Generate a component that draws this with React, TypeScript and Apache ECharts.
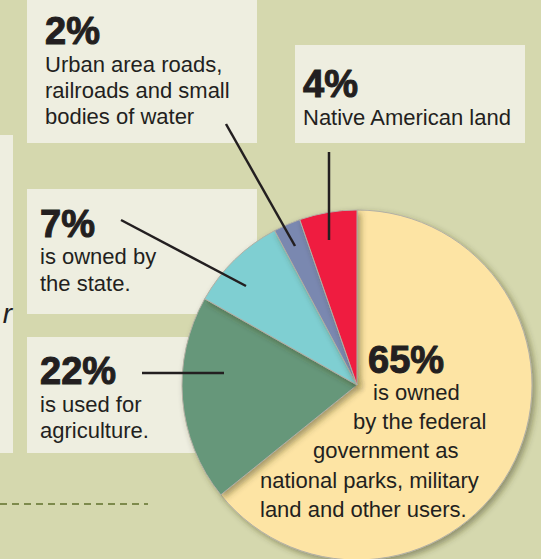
import React, { useEffect, useRef } from "react";
import * as echarts from "echarts";

// Slice shares as drawn in the picture (angles measured, in percent of the circle)
const sliceNames = [
  "Federal government",
  "Agriculture",
  "State",
  "Urban roads, railroads, small water bodies",
  "Native American land",
];
const sliceShares = [64.2, 19.0, 9.0, 2.5, 5.3];
const sliceColors = ["#fde4a4", "#66977a", "#7fcfd2", "#7a88b0", "#ef1a3f"];

// Stated percentages and captions
const labelPercents = ["65%", "22%", "7%", "2%", "4%"];
const labelLines: string[][] = [
  ["is owned", "by the federal", "government as", "national parks, military", "land and other users."],
  ["is used for", "agriculture."],
  ["is owned by", "the state."],
  ["Urban area roads,", "railroads and small", "bodies of water"],
  ["Native American land"],
];

const BG = "#d5d8ae";
const BOX = "#eeeee0";
const INK = "#231f20";

export default function App() {
  const ref = useRef<HTMLDivElement>(null);
  useEffect(() => {
    if (!ref.current) return;
    const chart = echarts.init(ref.current, undefined, { renderer: "svg" });

    const bigFont = "bold 38px 'Liberation Sans', Arial, sans-serif";
    const bodyFont = "22px 'Liberation Sans', Arial, sans-serif";
    const mid = (baseline: number, size: number) => baseline - 0.35 * size;

    const big = (text: string, x: number, baseline: number) => ({
      type: "text",
      z: 100,
      style: {
        text,
        x,
        y: mid(baseline, 38),
        font: bigFont,
        fill: INK,
        stroke: INK,
        lineWidth: 1,
        verticalAlign: "middle",
        align: "left",
      },
    });
    const body = (text: string, x: number, baseline: number) => ({
      type: "text",
      z: 100,
      style: {
        text,
        x,
        y: mid(baseline, 22),
        font: bodyFont,
        fill: INK,
        verticalAlign: "middle",
        align: "left",
      },
    });
    const box = (x: number, y: number, w: number, h: number) => ({
      type: "rect",
      z: 0,
      shape: { x, y, width: w, height: h },
      style: { fill: BOX },
    });
    const leader = (x1: number, y1: number, x2: number, y2: number) => ({
      type: "line",
      z: 100,
      shape: { x1, y1, x2, y2 },
      style: { stroke: INK, lineWidth: 2.5 },
    });

    const fedX = [373, 353, 313, 260, 260];
    const fedBase = [400, 429, 458, 488, 517];

    const graphics: any[] = [
      // side panel fragment
      box(0, 135, 13, 318),
      {
        type: "text",
        z: 100,
        style: {
          text: "r",
          x: 12,
          y: mid(323, 28),
          font: "italic 28px 'Liberation Sans', Arial, sans-serif",
          fill: INK,
          verticalAlign: "middle",
          align: "right",
        },
      },
      // dashed rule
      {
        type: "line",
        z: 1,
        shape: { x1: 0, y1: 504, x2: 148, y2: 504 },
        style: { stroke: "#7d8a4c", lineWidth: 2, lineDash: [7, 5] },
      },
      // boxes
      box(27, -5, 230, 148),
      box(295, 45, 230, 98),
      box(27, 189, 230, 125),
      box(27, 337, 230, 116),
      // 2%
      big(labelPercents[3], 45, 44),
      ...labelLines[3].map((t, i) => body(t, 45, 72.5 + i * 26)),
      // 4%
      big(labelPercents[4], 303, 97),
      ...labelLines[4].map((t, i) => body(t, 303, 125 + i * 26)),
      // 7%
      big(labelPercents[2], 40, 237),
      ...labelLines[2].map((t, i) => body(t, 40, 264 + i * 27)),
      // 22%
      big(labelPercents[1], 40, 384),
      ...labelLines[1].map((t, i) => body(t, 40, 412 + i * 26)),
      // 65%
      big(labelPercents[0], 368, 373),
      ...labelLines[0].map((t, i) => body(t, fedX[i], fedBase[i])),
      // leaders
      leader(226, 124, 295, 246),
      leader(329, 152, 329, 240),
      leader(121, 220, 246, 286),
      leader(142, 373, 224, 373),
    ];

    chart.setOption({
      animation: false,
      backgroundColor: BG,
      graphic: { elements: graphics },
      series: [
        {
          type: "pie",
          z: 2,
          center: [357, 385],
          radius: 175,
          startAngle: 90,
          clockwise: true,
          label: { show: false },
          labelLine: { show: false },
          emphasis: { disabled: true },
          itemStyle: {
            borderColor: "#b3b0a4",
            borderWidth: 1,
            shadowBlur: 6,
            shadowColor: "rgba(60,60,30,0.45)",
            shadowOffsetX: 3,
            shadowOffsetY: 3,
          },
          data: sliceNames.map((name, i) => ({
            name,
            value: sliceShares[i],
            itemStyle: { color: sliceColors[i] },
          })),
        },
      ],
    });
    return () => chart.dispose();
  }, []);
  return (
    <div
      ref={ref}
      style={{ position: "fixed", left: 0, top: 0, width: 541, height: 559 }}
    />
  );
}
